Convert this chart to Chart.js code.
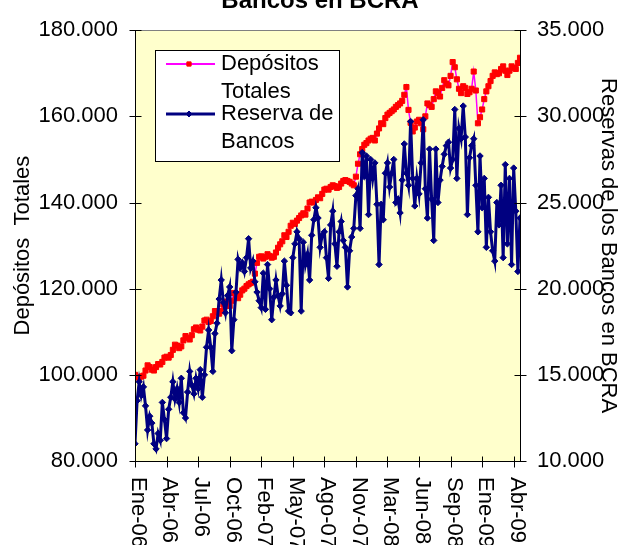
<!DOCTYPE html>
<html>
<head>
<meta charset="utf-8">
<script src="https://cdn.jsdelivr.net/npm/chart.js@4.4.0/dist/chart.umd.min.js"></script>
<style>
  html, body { margin: 0; padding: 0; background: #fff; }
</style>
</head>
<body>
<canvas id="chart" width="628" height="545"></canvas>
<script>
const FONT = "'Liberation Sans', Arial, sans-serif";
const TITLE = 'Bancos en BCRA';
const LEFT_TITLE = 'Depósitos  Totales';
const RIGHT_TITLE = 'Reservas de los Bancos en BCRA';

// one label every LABEL_STEP points (roughly weekly samples)
const LABEL_STEP = 15;
const xLabels = ['Ene-06', 'Abr-06', 'Jul-06', 'Oct-06', 'Feb-07', 'May-07', 'Ago-07',
  'Nov-07', 'Mar-08', 'Jun-08', 'Sep-08', 'Ene-09', 'Abr-09'];

const legendLines = [['Depósitos', 'Totales'], ['Reserva de', 'Bancos']];

// Depósitos Totales (left axis, miles de millones)
const depositos = [
  100.0, 99.5, 99.3, 99.6, 99.8, 101.0, 102.2, 101.8, 101.2, 101.0,
  101.8, 102.5, 102.4, 103.0, 104.0, 104.2, 104.0, 104.6, 105.8, 107.0,
  106.8, 106.2, 106.6, 108.0, 109.0, 108.6, 108.2, 109.2, 110.6, 111.0,
  110.5, 110.3, 111.2, 112.6, 112.8, 112.3, 112.5, 113.6, 114.8, 114.6,
  114.2, 114.8, 116.3, 117.0, 116.6, 116.0, 117.2, 119.0, 118.4, 117.8,
  118.6, 119.6, 120.0, 120.6, 121.0, 121.3, 121.6, 123.5, 126.0, 127.4,
  127.5, 127.0, 127.4, 128.0, 127.6, 127.2, 127.4, 128.4, 129.5, 130.3,
  131.0, 132.4, 132.0, 133.2, 134.6, 135.3, 135.0, 135.8, 136.4, 137.0,
  137.5, 137.2, 138.6, 140.0, 140.2, 140.0, 140.6, 141.2, 141.0, 142.0,
  143.0, 143.2, 143.0, 143.6, 144.0, 143.8, 143.4, 143.6, 144.4, 145.0,
  145.2, 145.0, 144.8, 144.4, 144.0, 146.0, 149.0, 151.2, 152.4, 153.4,
  153.8, 154.4, 154.8, 155.0, 154.4, 156.0, 157.2, 158.4, 158.2, 159.6,
  160.4, 160.8, 161.2, 161.6, 162.2, 162.6, 163.0, 163.6, 165.0, 166.8,
  161.5, 158.5, 156.5, 157.4, 158.8, 159.2, 158.4, 157.0, 160.0, 163.0,
  162.6, 162.2, 164.0, 165.8, 165.4, 164.6, 166.6, 168.4, 167.6, 167.2,
  169.4, 172.6, 171.4, 168.6, 166.4, 165.4, 167.0, 166.6, 165.2, 165.6,
  166.4, 170.4, 166.0, 158.4, 159.8, 161.6, 164.0, 165.8, 167.0, 168.2,
  169.4, 170.2, 169.8, 170.0, 171.0, 171.6, 170.6, 169.6, 170.6, 171.6,
  171.2, 171.0, 172.4, 173.6
];

// Reserva de Bancos en BCRA (right axis)
const reservas = [
  11.0, 13.5, 14.6, 13.8, 14.3, 13.2, 11.8, 12.6, 12.2, 11.0,
  10.7, 11.6, 11.2, 13.4, 12.4, 11.3, 13.0, 13.7, 14.6, 13.6,
  14.2, 13.4, 14.8, 12.8, 12.5, 14.0, 15.2, 14.4, 13.9, 14.8,
  14.2, 15.3, 13.7, 15.0, 16.6, 17.6, 16.6, 15.2, 17.4, 18.0,
  19.4, 20.5, 19.2, 18.6, 19.6, 20.1, 16.4, 18.2, 19.8, 21.7,
  21.2, 21.5, 21.0, 21.8, 22.9, 21.2, 21.6, 20.4, 19.8, 19.3,
  18.9, 20.9, 18.8, 21.4, 20.0, 18.2, 19.5, 20.5, 19.6, 19.0,
  19.7, 21.6, 20.2, 18.7, 18.6, 21.8, 22.6, 23.3, 22.9, 18.7,
  22.7, 21.4, 22.0, 20.5, 23.1, 24.0, 24.7, 24.1, 22.4, 23.1,
  23.3, 21.8, 20.6, 23.7, 24.5, 22.6, 21.3, 23.3, 23.9, 22.8,
  22.4, 20.1, 22.2, 23.0, 23.5, 25.4, 25.8, 23.5, 27.9, 26.5,
  27.7, 24.3, 27.5, 26.4, 27.3, 24.9, 21.4, 24.9, 24.0, 26.7,
  27.3, 25.9, 26.7, 27.5, 25.0, 25.2, 24.4, 26.3, 28.4, 26.7,
  26.0, 29.7, 26.4, 24.8, 26.4, 25.5, 27.3, 29.8, 25.8, 24.1,
  28.1, 25.2, 22.8, 28.1, 25.0, 26.3, 27.1, 27.8, 28.3, 28.5,
  27.0, 27.5, 30.4, 26.4, 29.3, 28.7, 30.6, 28.8, 24.3, 27.6,
  28.3, 28.7, 26.0, 23.3, 27.7, 24.7, 26.4, 22.4, 25.3, 23.3,
  22.2, 21.6, 25.0, 23.7, 26.0, 21.8, 27.2, 22.6, 26.4, 21.4,
  27.0, 24.5, 21.0, 24.1
];

const DEP_LINE = '#FF00FF', DEP_MARK = '#FF0000', RES_COLOR = '#000080';

// Excel-like plot: yellow area, crossing tick marks, rotated labels, boxed legend
const excelLook = {
  id: 'excelLook',
  beforeDatasetsDraw(chart) {
    const { ctx, chartArea: a } = chart;
    ctx.save();
    ctx.fillStyle = '#FFFFCC';
    ctx.fillRect(a.left, a.top, a.right - a.left, a.bottom - a.top);
    ctx.restore();
  },
  afterDatasetsDraw(chart) {
    const { ctx, chartArea: a, scales } = chart;
    const L = Math.round(a.left) + 0.5, R = Math.round(a.right) + 0.5;
    const T = Math.round(a.top) + 0.5, B = Math.round(a.bottom) + 0.5;
    ctx.save();
    ctx.strokeStyle = '#808080';
    ctx.lineWidth = 1;
    ctx.beginPath(); ctx.moveTo(L, T); ctx.lineTo(R, T); ctx.stroke();

    ctx.strokeStyle = '#000';
    ctx.beginPath();
    ctx.moveTo(L, T); ctx.lineTo(L, B); ctx.lineTo(R, B); ctx.lineTo(R, T);
    scales.y.ticks.forEach(t => {
      const y = Math.round(scales.y.getPixelForValue(t.value)) + 0.5;
      ctx.moveTo(L - 6, y); ctx.lineTo(L + 6, y);
    });
    scales.y1.ticks.forEach(t => {
      const y = Math.round(scales.y1.getPixelForValue(t.value)) + 0.5;
      ctx.moveTo(R - 6, y); ctx.lineTo(R + 6, y);
    });
    xLabels.forEach((_, k) => {
      const x = Math.round(scales.x.getPixelForValue(k * LABEL_STEP)) + 0.5;
      ctx.moveTo(x, B - 5); ctx.lineTo(x, B + 6);
    });
    ctx.stroke();
    ctx.restore();
  },
  afterDraw(chart) {
    const { ctx, chartArea: a, scales } = chart;
    const midY = (a.top + a.bottom) / 2;
    ctx.save();
    ctx.fillStyle = '#000';

    // title, cut off by the top edge as in the source
    ctx.font = `bold 24px ${FONT}`;
    ctx.textAlign = 'center';
    ctx.textBaseline = 'alphabetic';
    ctx.fillText(TITLE, 320, 8);

    ctx.font = `22px ${FONT}`;
    ctx.save(); ctx.translate(29, midY); ctx.rotate(-Math.PI / 2);
    ctx.fillText(LEFT_TITLE, 0, 0); ctx.restore();
    ctx.save(); ctx.translate(602, midY); ctx.rotate(Math.PI / 2);
    ctx.fillText(RIGHT_TITLE, 0, 0); ctx.restore();

    // date labels read top-to-bottom
    ctx.textAlign = 'left';
    ctx.textBaseline = 'middle';
    xLabels.forEach((lab, k) => {
      const x = scales.x.getPixelForValue(k * LABEL_STEP);
      ctx.save(); ctx.translate(x + 3, a.bottom + 16); ctx.rotate(Math.PI / 2);
      ctx.fillText(lab, 0, 0); ctx.restore();
    });

    // legend box
    const lx = 155.5, ly = 50.5, lw = 184, lh = 111;
    ctx.fillStyle = '#fff';
    ctx.fillRect(lx, ly, lw, lh);
    ctx.strokeStyle = '#000';
    ctx.lineWidth = 1;
    ctx.strokeRect(lx, ly, lw, lh);
    const rows = [
      { y: 64, line: DEP_LINE, mark: DEP_MARK, width: 2, style: 'rect' },
      { y: 114, line: RES_COLOR, mark: RES_COLOR, width: 3, style: 'rectRot' }
    ];
    rows.forEach((r, i) => {
      ctx.strokeStyle = r.line;
      ctx.lineWidth = r.width;
      ctx.beginPath(); ctx.moveTo(166, r.y); ctx.lineTo(215, r.y); ctx.stroke();
      ctx.fillStyle = r.mark;
      ctx.strokeStyle = r.mark;
      ctx.lineWidth = 1;
      Chart.helpers.drawPoint(ctx, { pointStyle: r.style, radius: 3, borderWidth: 1 }, 189, r.y);
      ctx.fillStyle = '#000';
      ctx.font = `22px ${FONT}`;
      ctx.textAlign = 'left';
      ctx.textBaseline = 'middle';
      ctx.fillText(legendLines[i][0], 221, r.y);
      ctx.fillText(legendLines[i][1], 221, r.y + 28);
    });
    ctx.restore();
  }
};

const tickFont = { family: FONT, size: 22 };

new Chart(document.getElementById('chart'), {
  type: 'line',
  data: {
    datasets: [{
      label: 'Depósitos Totales',
      data: depositos.map((v, i) => ({ x: i, y: v })),
      yAxisID: 'y',
      borderColor: DEP_LINE,
      borderWidth: 1.5,
      pointStyle: 'rect',
      pointRadius: 3.6,
      pointBackgroundColor: DEP_MARK,
      pointBorderColor: DEP_MARK,
      pointBorderWidth: 1,
      tension: 0,
      order: 2
    }, {
      label: 'Reserva de Bancos',
      data: reservas.map((v, i) => ({ x: i, y: v })),
      yAxisID: 'y1',
      borderColor: RES_COLOR,
      borderWidth: 3,
      pointStyle: 'rectRot',
      pointRadius: 3.2,
      pointBackgroundColor: RES_COLOR,
      pointBorderColor: RES_COLOR,
      pointBorderWidth: 1,
      tension: 0,
      order: 1
    }]
  },
  plugins: [excelLook],
  options: {
    responsive: false,
    animation: false,
    layout: { padding: { top: 21, bottom: 84, left: 0, right: 0 } },
    plugins: { legend: { display: false }, tooltip: { enabled: false }, title: { display: false } },
    scales: {
      x: { type: 'linear', display: false, min: 0, max: depositos.length - 1 },
      y: {
        position: 'left', min: 80, max: 180,
        grid: { display: false, drawTicks: false }, border: { display: false },
        ticks: { stepSize: 20, padding: 17, color: '#000', font: tickFont, callback: v => v.toFixed(3) },
        afterFit: s => { s.width = 135; }
      },
      y1: {
        position: 'right', min: 10, max: 35,
        grid: { display: false, drawTicks: false }, border: { display: false },
        ticks: { stepSize: 5, padding: 17, color: '#000', font: tickFont, callback: v => v.toFixed(3) },
        afterFit: s => { s.width = 108; }
      }
    }
  }
});
</script>
</body>
</html>
